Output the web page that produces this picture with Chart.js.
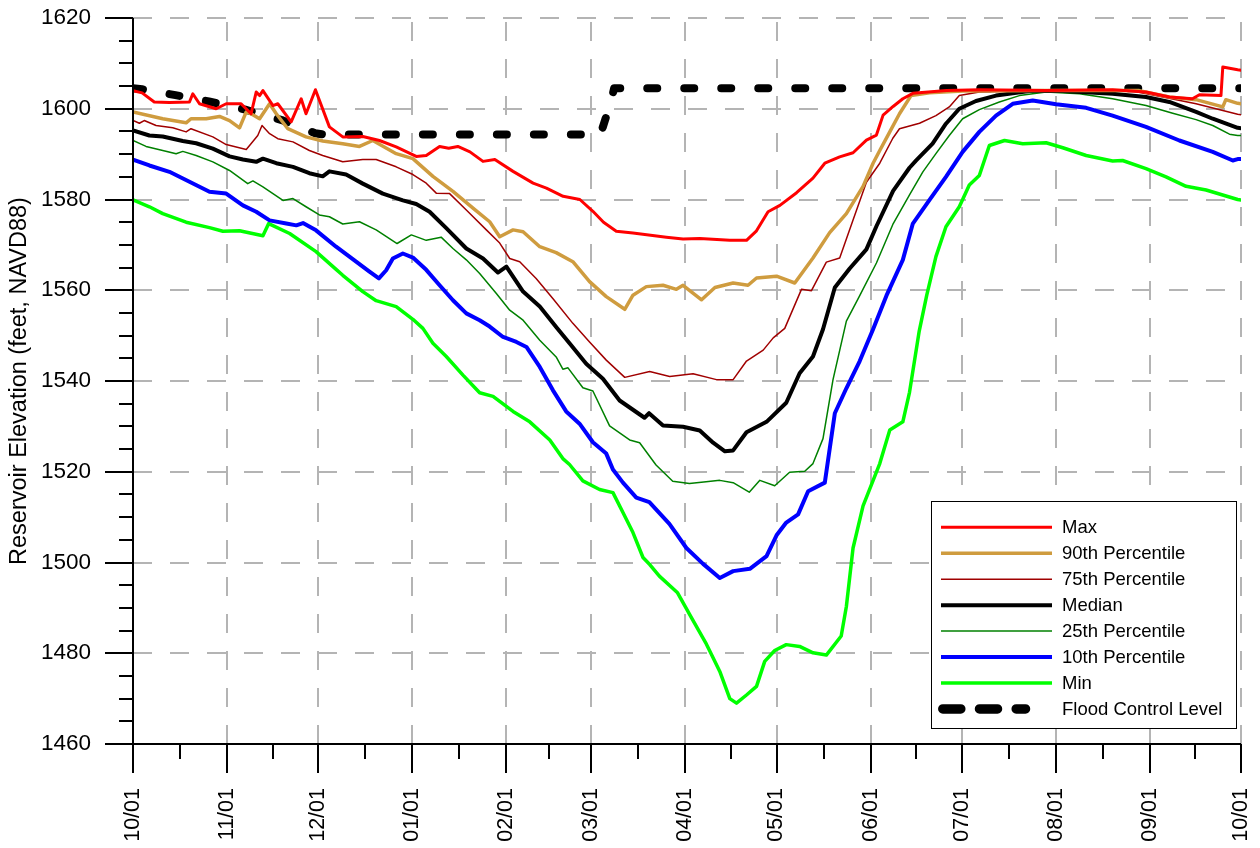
<!DOCTYPE html>
<html>
<head>
<meta charset="utf-8">
<script src="https://cdn.jsdelivr.net/npm/chart.js@4.4.1/dist/chart.umd.min.js"></script>
<style>
html,body{margin:0;padding:0;background:#fff;overflow:hidden;}
canvas{display:block;}
</style>
</head>
<body>
<canvas id="c" width="1260" height="848"></canvas>
<script>
// ---- axis data ----
const monthDays = [0,31,61,92,123,151,182,212,243,273,304,335,365];
const monthLabels = ['10/01','11/01','12/01','01/01','02/01','03/01','04/01','05/01','06/01','07/01','08/01','09/01','10/01'];
const yTicks = [1460,1480,1500,1520,1540,1560,1580,1600,1620];
const yTickLabels = ['1460','1480','1500','1520','1540','1560','1580','1600','1620'];
const yTitle = 'Reservoir Elevation (feet, NAVD88)';

// ---- series (day of water year, elevation ft) ----
const maxDays = [0,3,7,12,18.6,19.7,21.9,27.4,30.7,35.6,38.9,40.6,41.7,42.8,46.1,47.7,52.1,55.4,57,60.1,64.7,69.1,75.7,81.2,86.7,93.3,96.6,101,104,107,111,115.3,119.2,125.2,131.8,136.2,141.7,147.2,151.5,155,159.2,164.7,175.7,181.2,186.7,196.6,202.1,205.4,209.2,213.1,218.6,224,227.9,232.8,237.2,241.6,244.9,247.1,250.4,253.6,256.9,268,278.8,300.8,322.7,333.7,341.4,349,351.3,358.4,359,363.9,365];
const maxVals = [1604.0,1603.5,1601.5,1601.4,1601.5,1603.3,1601.1,1600.0,1601.1,1601.1,1598.9,1603.7,1602.9,1604.0,1600.7,1601.1,1597.1,1602.2,1598.9,1604.2,1596.0,1593.8,1593.9,1593.0,1591.6,1589.5,1589.7,1591.7,1591.3,1591.7,1590.5,1588.4,1588.8,1586.2,1583.6,1582.5,1580.7,1580.0,1577.4,1575.0,1573.0,1572.6,1571.7,1571.3,1571.4,1571.0,1571.0,1573.1,1577.3,1578.7,1581.5,1584.7,1588.0,1589.4,1590.3,1593.1,1594.2,1598.6,1600.5,1602.2,1603.4,1604.0,1604.2,1604.0,1604.2,1603.7,1602.6,1602.2,1603.1,1602.9,1609.2,1608.6,1608.5];

const p90Days = [0,9.8,17.5,19.1,24.1,28.5,31.8,35.1,37.3,38.9,41.7,45,47.2,51,57,62.5,69.1,74.6,79,86.7,92.2,98.8,105.4,112,117.5,120.8,125.2,128.5,134,139.4,144.9,150.4,155.9,162,164.7,169.1,174.6,179,181.2,187.3,191.7,197.7,202.6,205.4,212,218,224,229.5,235,240.5,243.8,246,249.3,252.5,256.3,262.4,273.3,300.8,331.5,341.4,350.2,359,360,363.9,365];
const p90Vals = [1599.3,1597.8,1596.9,1597.8,1597.8,1598.3,1597.4,1595.8,1599.3,1598.9,1597.8,1601.1,1598.9,1595.6,1593.8,1592.9,1592.3,1591.7,1593.0,1590.1,1589.0,1585.1,1581.8,1578.1,1575.1,1571.8,1573.3,1572.9,1569.6,1568.3,1566.3,1561.9,1558.6,1555.8,1558.9,1560.8,1561.1,1560.2,1561.1,1557.9,1560.6,1561.6,1561.1,1562.7,1563.1,1561.6,1567.1,1572.7,1576.9,1582.9,1588.0,1590.8,1594.9,1598.9,1602.9,1603.5,1603.9,1604.0,1604.0,1602.6,1602.0,1600.4,1602.0,1601.2,1601.1];

const p75Days = [0,2.1,3.7,7.6,13.1,17.5,19.1,26.3,30.7,37.3,38.4,41.1,42.5,45,47.7,52.7,58.1,62.5,69.1,75.7,80.1,86.7,92.2,96.6,99.9,104.3,109.8,116.4,120.8,124.1,127.4,132.8,138.3,144.9,150.4,155.9,162,170.2,176.8,184.5,192.2,197.7,202.1,207.6,210.9,214.7,220.2,223.5,228.4,232.8,237.2,241.6,246,250.3,252.5,259.1,264.5,268.9,272.2,278.8,300.8,329.3,339.2,350.2,363.9,365];
const p75Vals = [1597.4,1596.8,1597.4,1596.3,1595.8,1594.9,1595.6,1593.8,1592.1,1591.0,1591.9,1594.1,1596.3,1594.5,1593.4,1592.7,1590.8,1589.7,1588.3,1588.8,1588.8,1587.2,1585.5,1583.6,1581.4,1581.3,1577.7,1573.3,1570.4,1567.0,1566.3,1562.6,1558.2,1552.7,1548.6,1544.6,1540.8,1542.1,1541.0,1541.6,1540.3,1540.3,1544.4,1546.8,1549.5,1551.6,1560.2,1559.9,1566.2,1567.1,1575.5,1583.8,1588.0,1593.5,1595.6,1596.8,1598.5,1600.4,1602.9,1603.7,1604.0,1603.9,1602.6,1601.1,1598.8,1598.7];

const medDays = [0,5.4,9.8,16.4,20.8,26.3,31.8,36.2,40.6,42.8,47.2,52.7,58.1,62.5,64.7,70.2,75.7,82.3,88.9,93.3,97.7,103.2,109.8,115.3,120.2,123,128.5,134,139.4,143.8,149.3,154.8,160.3,168.5,170,174.6,181.2,186.7,191.1,195,197.7,202.1,208.7,215.2,219.6,224,227.3,231.2,236.1,241.6,244.9,250.4,255.8,258,263.4,267.8,272.2,277.7,284.3,295.3,306.3,322.7,333.7,341.4,350.2,355.7,363.9,365];
const medVals = [1595.2,1594.1,1593.9,1592.9,1592.4,1591.2,1589.5,1588.8,1588.3,1589.0,1588.0,1587.2,1585.8,1585.1,1586.2,1585.5,1583.5,1581.3,1579.8,1579.0,1577.3,1573.7,1569.2,1567.0,1563.9,1565.2,1559.7,1556.4,1551.9,1548.3,1543.8,1540.5,1535.7,1531.9,1532.9,1530.2,1529.9,1529.1,1526.4,1524.5,1524.7,1528.7,1531.0,1535.2,1541.7,1545.4,1551.4,1560.6,1564.8,1569.0,1574.1,1581.9,1587.0,1588.6,1592.3,1596.7,1600.0,1601.7,1602.9,1603.9,1603.9,1603.3,1602.6,1601.5,1599.3,1597.8,1595.8,1595.7];

const p25Days = [0,4.3,9.8,14.2,16.4,20.8,26.3,31.8,37.8,39.5,42.8,46.1,49.4,52.7,57,61.4,64.7,69.1,74.6,80.1,87,91.7,96.6,101.5,105.4,109.8,114.2,119.7,124.1,128.5,134,139.4,141.6,143.3,148.2,151.5,157,163.6,166.9,172.3,177.8,183.3,188.8,193.3,197.7,203,206.5,211.4,216.3,221.3,224,227.3,230.6,235,239.4,244.9,250.3,255.8,260.2,264.5,268.9,273.3,278.8,285.4,292,300.8,311.8,322.7,333.7,342.5,350.2,355.7,361.2,363.9,365];
const p25Vals = [1593.0,1591.7,1590.8,1590.1,1590.6,1589.7,1588.3,1586.4,1583.5,1584.1,1582.8,1581.3,1579.8,1580.2,1578.4,1576.6,1576.2,1574.6,1575.1,1573.3,1570.3,1572.2,1571.0,1571.7,1569.2,1566.7,1563.7,1559.3,1555.6,1553.4,1549.0,1545.3,1542.6,1542.9,1538.5,1537.8,1530.1,1527.0,1526.4,1521.5,1517.9,1517.4,1517.8,1518.1,1517.6,1515.5,1518.1,1516.9,1519.9,1520.1,1521.8,1527.3,1540.3,1553.2,1558.8,1566.0,1574.5,1581.0,1586.1,1590.1,1594.1,1597.8,1599.8,1601.5,1602.9,1603.7,1603.3,1602.2,1600.7,1599.0,1597.6,1596.3,1594.4,1594.1,1594.1];

const p10Days = [0,5.4,12,18.6,25.2,30.7,36.2,40.6,45,50.5,53.8,56,60.3,66.9,73.5,77.9,81,83.4,85.6,88.9,92.2,96.6,101,105.4,109.8,114.2,117.5,121.9,126.3,129.6,134,138.3,142.7,147.1,151.5,155.9,158.1,161.4,165.8,170.1,176.7,182.3,187.8,193.3,197.7,203.2,208.7,212,215.2,219.1,222.4,227.9,231.2,235,239.4,243.8,248.2,253.6,256.9,262.4,267.8,273.3,278.8,284.3,289.8,296.4,304.1,314,322.7,333.7,344.7,355.7,362.3,363.9,365];
const p10Vals = [1588.8,1587.5,1586.1,1583.9,1581.7,1581.3,1578.7,1577.3,1575.4,1574.7,1574.3,1574.8,1573.2,1569.6,1566.3,1564.1,1562.6,1564.4,1567.0,1568.1,1567.2,1564.5,1561.1,1557.8,1554.9,1553.4,1552.0,1549.7,1548.6,1547.5,1543.1,1538.0,1533.3,1530.6,1526.5,1524.0,1520.5,1517.6,1514.3,1513.3,1508.5,1503.2,1499.7,1496.6,1498.1,1498.6,1501.4,1506.0,1508.8,1510.6,1515.7,1517.6,1532.9,1538.4,1544.4,1551.4,1558.8,1566.7,1574.7,1579.9,1585.0,1590.5,1594.9,1598.5,1601.1,1601.8,1601.0,1600.2,1598.5,1596.0,1593.0,1590.5,1588.6,1588.9,1588.9];

const minDays = [0,5.4,9.8,17.5,25.2,29.6,35.1,42.8,44.7,51.6,60.3,66.9,69.1,75.7,80.1,86.7,92.2,95.5,98.8,103.2,108.7,114.2,118.6,125.2,130.7,137.3,141.6,143.8,148.2,153.7,158.1,161.4,164.7,168,170.3,173.4,179.3,184,188.9,190,193.3,196.6,198.8,202.1,205.4,208.1,211.4,215.2,219.6,224,228.4,233.3,235,237.2,240.5,246,249.3,253.6,255.8,259,261.5,264.5,267.8,272.2,275.5,278.8,282.1,287.1,293.1,300.8,306.3,314,322.7,326,333.7,340.3,346.9,353.5,363.9,365];
const minVals = [1579.9,1578.4,1576.9,1575.0,1573.8,1573.0,1573.1,1572.0,1574.7,1572.5,1568.5,1564.6,1563.3,1559.7,1557.7,1556.4,1553.6,1551.6,1548.3,1545.4,1541.3,1537.4,1536.6,1533.3,1531.0,1527.0,1522.9,1521.6,1518.0,1516.1,1515.4,1511.0,1506.6,1501.1,1499.5,1497.0,1493.4,1487.8,1482.0,1480.5,1476.0,1470.0,1469.0,1470.8,1472.7,1478.2,1480.6,1481.9,1481.5,1480.1,1479.6,1483.8,1490.3,1503.2,1512.5,1521.8,1529.2,1531.0,1537.5,1551.0,1559.0,1567.4,1574.0,1578.4,1583.2,1585.3,1591.9,1593.0,1592.3,1592.5,1591.4,1589.7,1588.5,1588.6,1586.8,1585.0,1582.9,1582.1,1580.0,1579.9];

const floodDays = [0,3,14,25,37,49,60,63,154,155.5,157,158.5,365];
const floodVals = [1604.5,1604.3,1603.0,1601.6,1599.8,1597.5,1594.6,1594.3,1594.3,1597.5,1600.5,1604.5,1604.5];

const seriesNames = ['Max','90th Percentile','75th Percentile','Median','25th Percentile','10th Percentile','Min','Flood Control Level'];

const pts = (d, v) => d.map((x, i) => ({x: x, y: v[i]}));
const FONT = "'Liberation Sans', Arial, sans-serif";
Chart.defaults.font.family = FONT;

function ds(label, d, v, color, w, extra) {
  return Object.assign({
    label: label, data: pts(d, v), borderColor: color, backgroundColor: color,
    borderWidth: w, pointRadius: 0, tension: 0, fill: false,
    borderJoinStyle: 'round', borderCapStyle: 'round'
  }, extra || {});
}

const datasets = [
  ds(seriesNames[0], maxDays, maxVals, '#FF0000', 3),
  ds(seriesNames[1], p90Days, p90Vals, '#CF9C3F', 3.5),
  ds(seriesNames[2], p75Days, p75Vals, '#A00000', 1.5),
  ds(seriesNames[3], medDays, medVals, '#000000', 4),
  ds(seriesNames[4], p25Days, p25Vals, '#008000', 1.5),
  ds(seriesNames[5], p10Days, p10Vals, '#0000FF', 4),
  ds(seriesNames[6], minDays, minVals, '#00FF00', 3.5),
  ds(seriesNames[7], floodDays, floodVals, '#000000', 8, {borderDash: [10, 27], borderDashOffset: 0, borderCapStyle: 'round'})
];

const framePlugin = {
  id: 'frame',
  beforeDatasetsDraw(chart) {
    const {ctx, chartArea: a, scales: {x, y}} = chart;
    ctx.save();
    ctx.strokeStyle = '#b4b4b4';
    ctx.lineWidth = 2;
    ctx.setLineDash([19, 18]);
    monthDays.forEach(d => {
      if (d === 0) return;
      const px = Math.round(x.getPixelForValue(d));
      ctx.beginPath(); ctx.moveTo(px, a.bottom); ctx.lineTo(px, a.top); ctx.stroke();
    });
    yTicks.forEach(v => {
      if (v === yTicks[0]) return;
      const py = Math.round(y.getPixelForValue(v));
      ctx.beginPath(); ctx.moveTo(a.left, py); ctx.lineTo(a.right, py); ctx.stroke();
    });
    ctx.restore();
  },
  afterDatasetsDraw(chart) {
    const {ctx, chartArea: a, scales: {x, y}} = chart;
    ctx.save();
    ctx.strokeStyle = '#000';
    ctx.lineWidth = 2;
    ctx.setLineDash([]);
    const L = Math.round(a.left), B = Math.round(a.bottom);
    ctx.beginPath(); ctx.moveTo(L, Math.round(a.top)); ctx.lineTo(L, B); ctx.stroke();
    ctx.beginPath(); ctx.moveTo(L, B); ctx.lineTo(Math.round(a.right), B); ctx.stroke();
    for (let v = yTicks[0]; v <= yTicks[yTicks.length - 1]; v += 5) {
      const py = Math.round(y.getPixelForValue(v));
      const major = yTicks.includes(v);
      ctx.beginPath(); ctx.moveTo(L - (major ? 28 : 14), py); ctx.lineTo(L, py); ctx.stroke();
    }
    monthDays.forEach((d, i) => {
      const px = Math.round(x.getPixelForValue(d));
      ctx.beginPath(); ctx.moveTo(px, B); ctx.lineTo(px, B + 29); ctx.stroke();
      if (i < monthDays.length - 1) {
        const pm = Math.round(x.getPixelForValue((d + monthDays[i + 1]) / 2));
        ctx.beginPath(); ctx.moveTo(pm, B); ctx.lineTo(pm, B + 15); ctx.stroke();
      }
    });
    ctx.restore();
  },
  afterDraw(chart) {
    const ctx = chart.ctx;
    const bx = 931, by = 501, bw = 306, bh = 228;
    ctx.save();
    ctx.fillStyle = '#fff';
    ctx.fillRect(bx, by, bw, bh);
    ctx.strokeStyle = '#000';
    ctx.lineWidth = 1;
    ctx.strokeRect(bx + 0.5, by + 0.5, bw - 1, bh - 1);
    ctx.font = '18.5px ' + FONT;
    ctx.textBaseline = 'middle';
    ctx.textAlign = 'left';
    chart.data.datasets.forEach((d, i) => {
      const ry = 527.3 + i * 25.95;
      ctx.save();
      ctx.strokeStyle = d.borderColor;
      if (d.borderDash) {
        ctx.lineWidth = 9.5;
        ctx.lineCap = 'round';
        ctx.setLineDash([18, 18.7]);
        ctx.beginPath(); ctx.moveTo(942.8, ry); ctx.lineTo(1025.5, ry); ctx.stroke();
      } else {
        ctx.lineWidth = d.borderWidth;
        ctx.lineCap = 'butt';
        ctx.beginPath(); ctx.moveTo(941, ry); ctx.lineTo(1052, ry); ctx.stroke();
      }
      ctx.restore();
      ctx.fillStyle = '#000';
      ctx.fillText(d.label, 1062, ry + 1);
    });
    ctx.restore();
  }
};

function noPad(s) { s.paddingLeft = 0; s.paddingRight = 0; s.paddingTop = 0; s.paddingBottom = 0; }

new Chart(document.getElementById('c'), {
  type: 'line',
  data: {datasets: datasets},
  options: {
    responsive: false,
    animation: false,
    devicePixelRatio: 1,
    layout: {padding: {left: 0, top: 18, right: 19, bottom: 0}},
    plugins: {legend: {display: false}, tooltip: {enabled: false}},
    scales: {
      x: {
        type: 'linear', min: 0, max: 365,
        afterBuildTicks: s => { s.ticks = monthDays.map(v => ({value: v})); },
        afterFit: s => { s.height = 104; noPad(s); },
        grid: {display: false, drawTicks: false},
        border: {display: false},
        ticks: {autoSkip: false, minRotation: 90, maxRotation: 90, padding: 44, color: '#000',
                font: {size: 21.5}, callback: (v, i) => monthLabels[i]}
      },
      y: {
        type: 'linear', min: 1460, max: 1620,
        afterBuildTicks: s => { s.ticks = yTicks.map(v => ({value: v})); },
        afterFit: s => { s.width = 133; noPad(s); },
        grid: {display: false, drawTicks: false},
        border: {display: false},
        ticks: {padding: 42, color: '#000', font: {size: 22.5}, callback: (v, i) => yTickLabels[i]},
        title: {display: true, text: yTitle, color: '#000', font: {size: 23.5}, padding: {top: 5, bottom: 0}}
      }
    }
  },
  plugins: [framePlugin]
});
</script>
</body>
</html>
